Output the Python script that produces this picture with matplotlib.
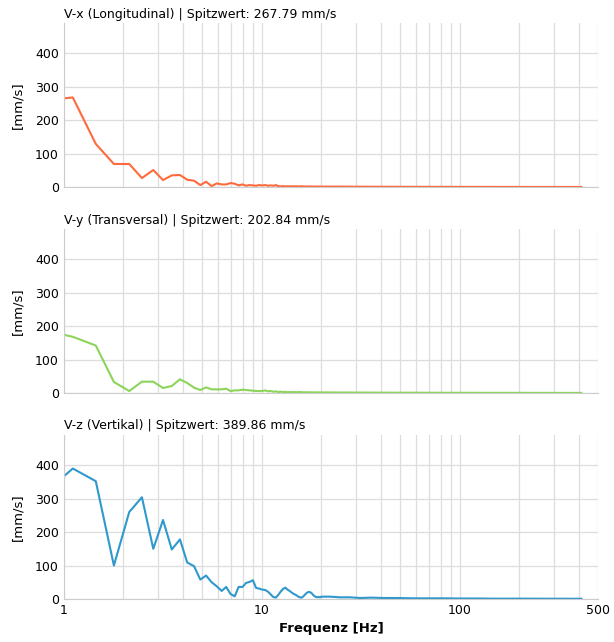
import matplotlib
matplotlib.use("Agg")
import matplotlib.pyplot as plt
from matplotlib.ticker import FixedLocator, LogLocator, NullFormatter

# frequency bins [Hz], dense below 20 Hz, sparse tail
freq = [0.42, 0.76, 1.11, 1.45, 1.79, 2.14, 2.48, 2.83, 3.17, 3.51, 3.86, 4.20,
        4.55, 4.89, 5.23, 5.58, 5.92, 6.27, 6.61, 6.95, 7.30, 7.64, 7.99, 8.33,
        8.67, 9.02, 9.36, 9.71, 10.05, 10.39, 10.74, 11.08, 11.43, 11.77, 12.11,
        12.46, 12.80, 13.15, 13.49, 13.83, 14.18, 14.52, 14.87, 15.21, 15.55,
        15.90, 16.24, 16.59, 16.93, 17.27, 17.62, 17.96, 18.31, 18.65, 18.99,
        19.34, 19.68, 20.03,
        22.1, 24.8, 27.9, 31.3, 35.8, 41.3, 48.2, 57.5, 68.9, 82.6, 99.8, 121,
        148, 182, 225, 278, 345, 412]

vx = [240, 258, 267.79, 129, 69, 69, 27, 51, 21, 35, 36, 22,
      19, 6, 16, 3, 11, 8, 8, 12, 10, 5, 8, 4,
      6, 5, 4, 6, 5, 6, 4, 5, 4, 6, 3,
      2, 3, 2, 2.5, 2, 2.5, 2, 2.5, 2, 2,
      2.5, 2, 2, 1.8, 1.8, 2, 1.5, 1.8, 1.5, 1.6,
      1.5, 1.5, 1.5,
      1.4, 1.5, 1.2, 1.2, 1.0, 1.0, 0.8, 0.8, 0.7, 0.7, 0.6, 0.6,
      0.5, 0.5, 0.4, 0.4, 0.3, 0.3]

vy = [202.84, 190, 168, 142, 33, 6, 34, 34, 15, 21, 41, 30,
      16, 9, 17, 11, 11, 11, 13, 6, 8, 8, 10, 9,
      8, 7, 6, 6, 6, 8, 5, 6, 4, 5, 3,
      4, 3, 3.5, 2.5, 3, 2.5, 3, 2.5, 2.5, 3,
      2.5, 2, 2.5, 2, 2.5, 2, 2, 2, 2, 2,
      1.8, 1.8, 1.8,
      1.8, 1.6, 1.5, 1.4, 1.3, 1.2, 1.0, 1.0, 0.9, 0.8, 0.8, 0.7,
      0.6, 0.6, 0.5, 0.5, 0.4, 0.4]

vz = [280, 306, 389.86, 352, 100, 260, 304, 150, 236, 148, 178, 109,
      98, 58, 70, 50, 38, 24, 36, 15, 8, 36, 36, 48,
      51, 56, 33, 31, 28, 27, 22, 14, 6, 4, 12,
      22, 30, 34, 28, 24, 19, 15, 12, 8, 5,
      4, 8, 14, 19, 21, 20, 16, 10, 7, 5,
      6, 5, 7,
      7, 5, 5, 3, 4, 3, 3, 2, 2, 2, 1.5, 1.5,
      1, 1, 1, 0.8, 0.8, 0.6]

components = [
    ("V-x (Longitudinal)", vx, "#ff6a3d"),
    ("V-y (Transversal)", vy, "#8cd45a"),
    ("V-z (Vertikal)", vz, "#2f98cc"),
]

fig, axes = plt.subplots(3, 1, figsize=(6.14, 6.42), dpi=100, sharex=True)
fig.subplots_adjust(left=0.104, right=0.974, top=0.964, bottom=0.067, hspace=0.256)

for ax, (name, vals, color) in zip(axes, components):
    ax.plot(freq, vals, color=color, linewidth=1.5)
    ax.set_xscale("log")
    ax.set_xlim(1, 500)
    ax.set_ylim(0, 490)
    ax.set_yticks([0, 100, 200, 300, 400])
    ax.set_title(f"{name} | Spitzwert: {max(vals):.2f} mm/s",
                 loc="left", fontsize=9, pad=4)
    ax.set_ylabel("[mm/s]", fontsize=9.5, labelpad=8)
    ax.xaxis.set_minor_locator(LogLocator(base=10, subs=range(2, 10)))
    ax.xaxis.set_minor_formatter(NullFormatter())
    ax.grid(True, which="both", axis="x", color="#dddddd", linewidth=0.9)
    ax.grid(True, which="major", axis="y", color="#dddddd", linewidth=0.9)
    ax.set_axisbelow(True)
    ax.tick_params(which="both", length=0, labelsize=9)
    for side in ("top", "right"):
        ax.spines[side].set_visible(False)
    for side in ("left", "bottom"):
        ax.spines[side].set_color("#cccccc")

axes[-1].xaxis.set_major_locator(FixedLocator([1, 10, 100, 500]))
axes[-1].set_xticklabels(["1", "10", "100", "500"])
axes[-1].set_xlabel("Frequenz [Hz]", fontweight="bold", fontsize=9.5)

fig.savefig("out.png", dpi=100)
